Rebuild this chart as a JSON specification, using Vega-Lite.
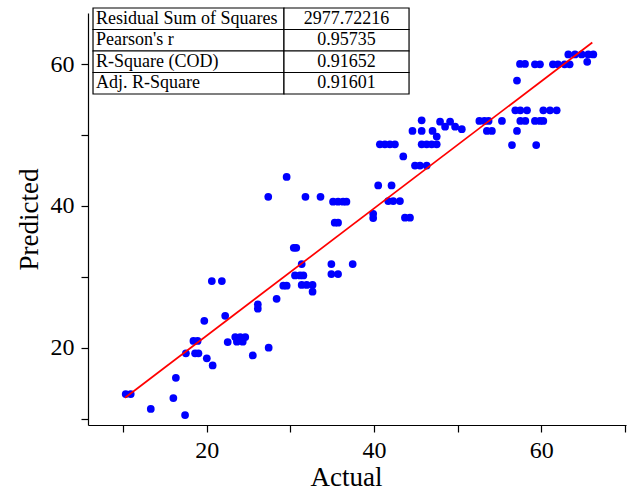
{
  "$schema": "https://vega.github.io/schema/vega-lite/v6.json",
  "width": 538,
  "height": 412,
  "autosize": {"type": "none"},
  "padding": {"left": 88, "top": 13, "right": 11, "bottom": 70},
  "background": "white",
  "config": {
    "view": {"stroke": null},
    "font": "Liberation Serif",
    "axis": {
      "grid": false,
      "domainColor": "black",
      "domainWidth": 1.2,
      "tickColor": "black",
      "tickWidth": 1.2,
      "tickSize": 7,
      "labelFont": "Liberation Serif",
      "labelFontSize": 24,
      "labelColor": "black",
      "labelFlush": false,
      "labelOverlap": false,
      "titleFont": "Liberation Serif",
      "titleFontSize": 27,
      "titleFontWeight": "normal",
      "titleColor": "black",
      "labelExpr": "datum.value % 20 === 0 ? datum.label : ''"
    },
    "axisX": {"labelPadding": 6, "titlePadding": 2},
    "axisY": {"labelPadding": 7, "titlePadding": 7}
  },
  "datasets": {
    "points": [
      {"actual": 10.3, "predicted": 13.45}, {"actual": 10.9, "predicted": 13.45},
      {"actual": 13.3, "predicted": 11.35}, {"actual": 16.0, "predicted": 12.9},
      {"actual": 17.4, "predicted": 10.5}, {"actual": 16.3, "predicted": 15.75},
      {"actual": 17.5, "predicted": 19.2}, {"actual": 18.6, "predicted": 19.2},
      {"actual": 19.0, "predicted": 19.2}, {"actual": 18.4, "predicted": 20.95},
      {"actual": 18.9, "predicted": 20.95}, {"actual": 20.0, "predicted": 18.5},
      {"actual": 20.7, "predicted": 17.5}, {"actual": 19.7, "predicted": 23.8},
      {"actual": 22.2, "predicted": 24.5}, {"actual": 22.5, "predicted": 20.8},
      {"actual": 20.6, "predicted": 29.4}, {"actual": 21.8, "predicted": 29.4},
      {"actual": 23.4, "predicted": 21.5}, {"actual": 24.0, "predicted": 21.5},
      {"actual": 24.6, "predicted": 21.5}, {"actual": 23.6, "predicted": 20.85},
      {"actual": 24.3, "predicted": 20.85}, {"actual": 25.5, "predicted": 18.9},
      {"actual": 26.1, "predicted": 26.1}, {"actual": 26.1, "predicted": 25.5},
      {"actual": 27.4, "predicted": 20.0}, {"actual": 28.35, "predicted": 26.9},
      {"actual": 29.15, "predicted": 28.75}, {"actual": 29.55, "predicted": 28.75},
      {"actual": 27.35, "predicted": 41.3}, {"actual": 29.55, "predicted": 44.1},
      {"actual": 30.4, "predicted": 34.1}, {"actual": 30.7, "predicted": 34.1},
      {"actual": 30.55, "predicted": 30.2}, {"actual": 31.15, "predicted": 30.2},
      {"actual": 31.55, "predicted": 30.2}, {"actual": 31.35, "predicted": 31.8},
      {"actual": 31.35, "predicted": 28.85}, {"actual": 31.95, "predicted": 28.85},
      {"actual": 32.65, "predicted": 28.85}, {"actual": 32.65, "predicted": 27.9},
      {"actual": 31.8, "predicted": 41.3}, {"actual": 33.6, "predicted": 41.3},
      {"actual": 34.9, "predicted": 31.8}, {"actual": 34.9, "predicted": 30.4},
      {"actual": 35.7, "predicted": 30.4}, {"actual": 35.1, "predicted": 40.6},
      {"actual": 35.7, "predicted": 40.6}, {"actual": 36.3, "predicted": 40.6},
      {"actual": 36.7, "predicted": 40.6}, {"actual": 35.3, "predicted": 37.65},
      {"actual": 35.7, "predicted": 37.65}, {"actual": 37.45, "predicted": 31.8},
      {"actual": 39.9, "predicted": 38.9}, {"actual": 39.9, "predicted": 38.3},
      {"actual": 40.5, "predicted": 42.9}, {"actual": 42.1, "predicted": 42.9},
      {"actual": 41.7, "predicted": 40.7}, {"actual": 42.3, "predicted": 40.7},
      {"actual": 43.1, "predicted": 40.7}, {"actual": 43.7, "predicted": 38.35},
      {"actual": 44.3, "predicted": 38.35}, {"actual": 40.7, "predicted": 48.7},
      {"actual": 41.3, "predicted": 48.7}, {"actual": 41.9, "predicted": 48.7},
      {"actual": 42.5, "predicted": 48.7}, {"actual": 43.5, "predicted": 47.0},
      {"actual": 44.9, "predicted": 45.7}, {"actual": 45.5, "predicted": 45.7},
      {"actual": 46.3, "predicted": 45.7}, {"actual": 45.7, "predicted": 52.1},
      {"actual": 44.6, "predicted": 50.6}, {"actual": 45.7, "predicted": 50.6},
      {"actual": 45.7, "predicted": 48.7}, {"actual": 46.3, "predicted": 48.7},
      {"actual": 46.9, "predicted": 48.7}, {"actual": 47.5, "predicted": 48.7},
      {"actual": 47.5, "predicted": 49.8}, {"actual": 47.0, "predicted": 50.6},
      {"actual": 47.9, "predicted": 51.9}, {"actual": 48.5, "predicted": 51.2},
      {"actual": 49.1, "predicted": 51.9}, {"actual": 49.7, "predicted": 51.2},
      {"actual": 50.5, "predicted": 50.85}, {"actual": 52.6, "predicted": 52.0},
      {"actual": 53.2, "predicted": 52.0}, {"actual": 53.7, "predicted": 52.0},
      {"actual": 53.5, "predicted": 50.6}, {"actual": 54.1, "predicted": 50.6},
      {"actual": 55.3, "predicted": 52.0}, {"actual": 57.5, "predicted": 52.0},
      {"actual": 58.1, "predicted": 52.0}, {"actual": 59.25, "predicted": 52.0},
      {"actual": 59.85, "predicted": 52.0}, {"actual": 60.25, "predicted": 52.0},
      {"actual": 57.1, "predicted": 50.6}, {"actual": 56.5, "predicted": 48.6},
      {"actual": 59.4, "predicted": 48.6}, {"actual": 56.9, "predicted": 53.5},
      {"actual": 57.5, "predicted": 53.5}, {"actual": 58.3, "predicted": 53.5},
      {"actual": 60.25, "predicted": 53.5}, {"actual": 61.05, "predicted": 53.5},
      {"actual": 61.85, "predicted": 53.5}, {"actual": 57.1, "predicted": 57.7},
      {"actual": 57.46, "predicted": 60.05}, {"actual": 58.06, "predicted": 60.05},
      {"actual": 59.25, "predicted": 60.0}, {"actual": 59.85, "predicted": 60.0},
      {"actual": 61.4, "predicted": 60.0}, {"actual": 62.0, "predicted": 60.0},
      {"actual": 62.8, "predicted": 60.0}, {"actual": 63.4, "predicted": 60.0},
      {"actual": 63.24, "predicted": 61.4}, {"actual": 64.04, "predicted": 61.4},
      {"actual": 64.84, "predicted": 61.4}, {"actual": 65.63, "predicted": 61.4},
      {"actual": 66.23, "predicted": 61.4}, {"actual": 65.5, "predicted": 60.35}
    ],
    "fit": [
      {"actual": 10.22, "predicted": 12.94},
      {"actual": 66.11, "predicted": 63.08}
    ],
    "stats": [
      {"stat": "Residual Sum of Squares", "value": "2977.72216"},
      {"stat": "Pearson's r", "value": "0.95735"},
      {"stat": "R-Square (COD)", "value": "0.91652"},
      {"stat": "Adj. R-Square", "value": "0.91601"}
    ]
  },
  "layer": [
    {
      "layer": [
        {
          "data": {"name": "points"},
          "mark": {"type": "circle", "size": 60, "color": "#0000FF", "opacity": 1},
          "encoding": {
            "x": {
              "field": "actual", "type": "quantitative", "title": "Actual",
              "scale": {"domain": [5.79, 70.14], "nice": false, "zero": false},
              "axis": {"values": [10, 20, 30, 40, 50, 60, 70], "titleX": 258}
            },
            "y": {
              "field": "predicted", "type": "quantitative", "title": "Predicted",
              "scale": {"domain": [9.09, 67.24], "nice": false, "zero": false},
              "axis": {"values": [10, 20, 30, 40, 50, 60]}
            }
          }
        },
        {
          "data": {"name": "fit"},
          "mark": {"type": "line", "color": "#FF0000", "strokeWidth": 1.7},
          "encoding": {
            "x": {"field": "actual", "type": "quantitative", "title": "Actual"},
            "y": {"field": "predicted", "type": "quantitative", "title": "Predicted"}
          }
        }
      ]
    },
    {
      "data": {"name": "stats"},
      "encoding": {
        "y": {
          "field": "stat", "type": "nominal", "sort": null, "axis": null,
          "scale": {
            "domain": ["Residual Sum of Squares", "Pearson's r", "R-Square (COD)", "Adj. R-Square"],
            "range": [-5, 81], "paddingInner": 0, "paddingOuter": 0
          }
        }
      },
      "layer": [
        {
          "mark": {"type": "rect", "fill": "white", "stroke": "black", "strokeWidth": 1.2},
          "encoding": {
            "x": {"datum": 6.39, "type": "quantitative", "title": "Actual"},
            "x2": {"datum": 29.23}
          }
        },
        {
          "mark": {"type": "rect", "fill": "white", "stroke": "black", "strokeWidth": 1.2},
          "encoding": {
            "x": {"datum": 29.23, "type": "quantitative", "title": "Actual"},
            "x2": {"datum": 44.19}
          }
        },
        {
          "mark": {"type": "text", "align": "left", "baseline": "middle", "font": "Liberation Serif", "fontSize": 18, "color": "black", "dx": 3},
          "encoding": {
            "x": {"datum": 6.39, "type": "quantitative", "title": "Actual"},
            "text": {"field": "stat"}
          }
        },
        {
          "mark": {"type": "text", "align": "center", "baseline": "middle", "font": "Liberation Serif", "fontSize": 18, "color": "black"},
          "encoding": {
            "x": {"datum": 36.71, "type": "quantitative", "title": "Actual"},
            "text": {"field": "value"}
          }
        }
      ]
    }
  ],
  "resolve": {"scale": {"y": "independent"}}
}
